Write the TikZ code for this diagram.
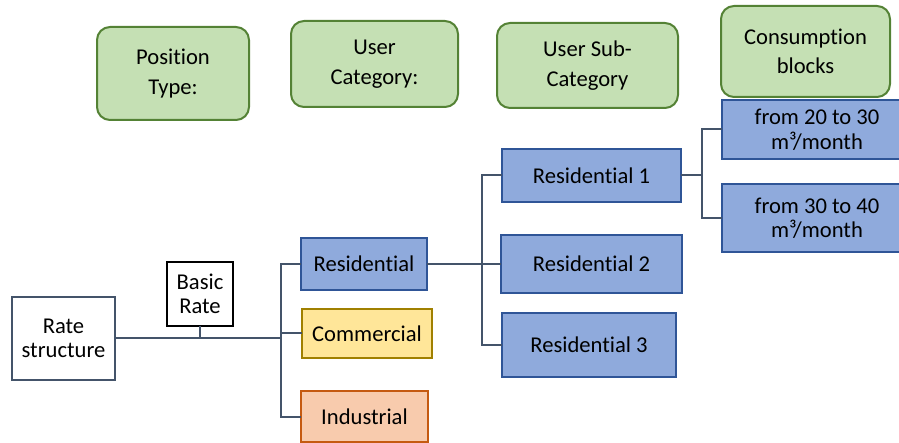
\documentclass[tikz,border=0pt]{standalone}
\usepackage{fontspec}
\setmainfont{Carlito}[Ligatures=NoCommon]
\definecolor{linec}{HTML}{44546A}
\definecolor{greenf}{HTML}{C5E0B4}
\definecolor{greend}{HTML}{548235}
\definecolor{bluef}{HTML}{8FAADC}
\definecolor{blued}{HTML}{2F5597}
\definecolor{yellowf}{HTML}{FFE699}
\definecolor{yellowd}{HTML}{A08000}
\definecolor{orangef}{HTML}{F8CBAD}
\definecolor{oranged}{HTML}{C55A11}
\begin{document}
\begin{tikzpicture}[x=1pt,y=-1pt,
  every node/.style={font=\fontsize{22.6}{24.5}\selectfont, align=center, inner sep=0pt, outer sep=0pt},
  header/.style={draw=greend, fill=greenf, line width=2pt, rounded corners=13pt,
    font=\fontsize{22.6}{29.5}\selectfont},
  plainbox/.style={draw=linec, fill=white, line width=2pt},
  blackbox/.style={draw=black, fill=white, line width=2pt},
  bluebox/.style={draw=blued, fill=bluef, line width=2pt},
  yellowbox/.style={draw=yellowd, fill=yellowf, line width=2pt},
  orangebox/.style={draw=oranged, fill=orangef, line width=2pt},
  link/.style={draw=linec, line width=2pt}]
\useasboundingbox (0,0) rectangle (899,443);
\clip (0,0) rectangle (899,443);

% column headers
\node[header, minimum width=152, minimum height=93] (h1) at (173,73.5) {Position\\Type:};
\node[header, minimum width=167, minimum height=86] (h2) at (374.5,64) {User\\Category:};
\node[header, minimum width=181, minimum height=85] (h3) at (587.5,65.5) {User Sub-\\Category};
\node[header, minimum width=169, minimum height=91] (h4) at (805.5,51.5) {Consumption\\blocks};

% tree nodes
\node[plainbox, minimum width=103, minimum height=83] (rs) at (63.5,338.5) {Rate\\structure};
\node[blackbox, minimum width=66, minimum height=64] (br) at (200,294) {Basic\\Rate};
\node[bluebox, minimum width=126, minimum height=52] (res) at (364,264) {Residential};
\node[yellowbox, minimum width=130, minimum height=49] (com) at (367,333.5) {Commercial};
\node[orangebox, minimum width=127, minimum height=51] (ind) at (364.5,416.5) {Industrial};
\node[bluebox, minimum width=179, minimum height=53] (r1) at (591.5,175.5) {Residential 1};
\node[bluebox, minimum width=181, minimum height=58] (r2) at (591.5,264) {Residential 2};
\node[bluebox, minimum width=174, minimum height=64] (r3) at (589,345) {Residential 3};
\node[bluebox, minimum width=190, minimum height=59] (b1) at (817,129.5) {from 20 to 30\\m³/month};
\node[bluebox, minimum width=190, minimum height=68] (b2) at (817,218) {from 30 to 40\\m³/month};

% junction columns
\coordinate (v1) at (281,0);
\coordinate (v2) at (481.5,0);
\coordinate (v3) at (702,0);
\coordinate (j1) at (281,338.5);

% connectors
\draw[link] (rs.east) -- (j1);
\draw[link] (br.south) -- (br.south |- rs.east);
\draw[link] (res.west) -- (res.west -| v1) -- (ind.west -| v1) -- (ind.west);
\draw[link] (com.west) -- (com.west -| v1);
\draw[link] (res.east) -- (r2.west);
\draw[link] (r1.west) -- (r1.west -| v2) -- (r3.west -| v2) -- (r3.west);
\draw[link] (r1.east) -- (r1.east -| v3);
\draw[link] (b1.west) -- (b1.west -| v3) -- (b2.west -| v3) -- (b2.west);
\end{tikzpicture}
\end{document}
